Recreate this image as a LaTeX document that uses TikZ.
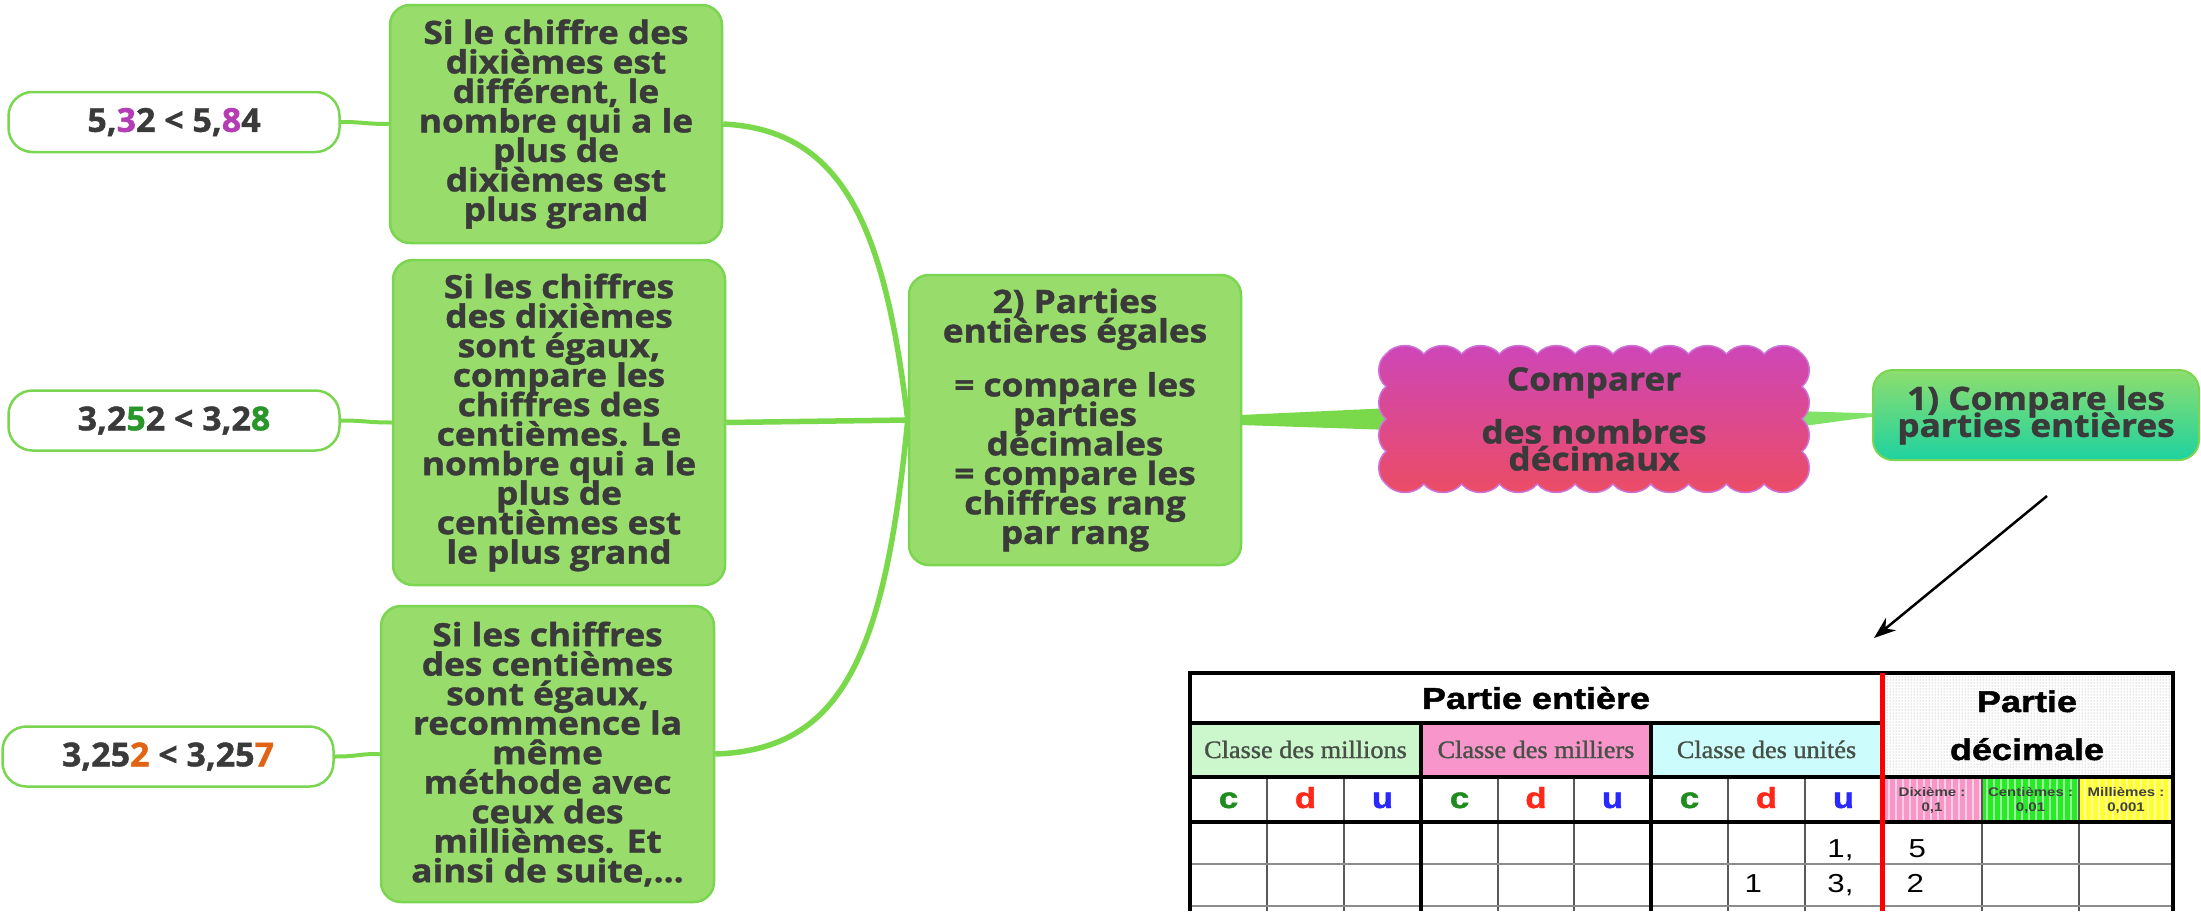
\documentclass[tikz,border=0pt]{standalone}
\usepackage{fontspec}
\newfontfamily\mapff{Open Sans}[UprightFont={* Bold}, FakeStretch=1.1, FakeBold=1.2]
\newfontfamily\numff{Open Sans}[UprightFont={* Bold}, FakeStretch=1.03, FakeBold=1.2]
\newfontfamily\tabsans{Liberation Sans}[FakeStretch=1.2]
\newfontfamily\tabheavy{Liberation Sans}[UprightFont={* Bold}, FakeStretch=1.2, FakeBold=1.5]
\newfontfamily\tabserif{Liberation Serif}[FakeStretch=1.05, FakeBold=1.2]
\usetikzlibrary{calc,patterns,arrows.meta}
\definecolor{boxgreen}{RGB}{152,221,108}
\definecolor{boxborder}{RGB}{122,214,80}
\definecolor{linkgreen}{RGB}{122,216,75}
\definecolor{linklight}{RGB}{128,226,105}
\definecolor{txt}{RGB}{58,58,58}
\definecolor{cloudtop}{RGB}{205,70,185}
\definecolor{cloudbot}{RGB}{236,76,100}
\definecolor{cloudedge}{RGB}{205,115,215}
\definecolor{onetop}{RGB}{142,222,110}
\definecolor{onebot}{RGB}{30,210,160}
\definecolor{numpurple}{RGB}{180,60,180}
\definecolor{numgreen}{RGB}{40,150,40}
\definecolor{numorange}{RGB}{225,100,20}
\definecolor{millfill}{RGB}{204,247,204}
\definecolor{millierfill}{RGB}{248,150,204}
\definecolor{unitfill}{RGB}{204,252,252}
\definecolor{dixfill}{RGB}{248,150,200}
\definecolor{centfill}{RGB}{40,235,40}
\definecolor{millemfill}{RGB}{255,255,50}
\definecolor{cgreen}{RGB}{30,140,30}
\definecolor{dred}{RGB}{255,40,25}
\definecolor{ublue}{RGB}{40,40,255}
\definecolor{classtext}{RGB}{70,80,70}
\newcommand\mapfont{\mapff\fontsize{32}{29.5}\selectfont\lineskiplimit=-1000pt\relax}
\newcommand\cloudfont{\mapff\fontsize{32}{27}\selectfont\lineskiplimit=-1000pt\relax}
\newcommand\numfont{\numff\fontsize{33}{33}\selectfont}
\pgfdeclarelayer{bg}
\pgfsetlayers{bg,main}
\begin{document}
\begin{tikzpicture}[x=1pt,y=-1pt,
  mapbox/.style={draw=boxborder, line width=2.5pt, fill=boxgreen, rounded corners=20pt,
    inner sep=0pt, align=center, text=txt, font=\mapfont},
  numbox/.style={draw=boxborder, line width=2.5pt, fill=white, rounded corners=24pt,
    inner sep=0pt, text=txt, font=\numfont, minimum width=331pt, minimum height=60pt},
  link/.style={draw=linkgreen, line width=5.5pt},
  thinlink/.style={draw=linkgreen, line width=4pt},
  thick rule/.style={draw=black, line width=4pt},
  thin rule/.style={draw=black!65, line width=2pt},
  cdu/.style={anchor=base, font=\tabheavy\fontsize{29}{29}\selectfont},
  digit/.style={font=\tabsans\fontsize{26}{26}\selectfont, text=black},
  classlabel/.style={font=\tabserif\fontsize{25}{25}\selectfont, text=classtext},
  declabel/.style={font=\tabsans\bfseries\fontsize{12.5}{15}\selectfont, text=black!75, align=center},
  headlabel/.style={font=\tabheavy\fontsize{30}{30}\selectfont}
]
\useasboundingbox (0,0) rectangle (2201,911);

% ---------- cloud shape ----------
\path[draw=cloudedge, line width=1.5pt, top color=cloudtop, bottom color=cloudbot]
  (1386,354)
  \foreach \i in {1,...,11} { to[bend left=50] ({1386+\i*37.818},354) }
  \foreach \j in {1,...,4} { to[bend left=50] (1802,{354+\j*32.5}) }
  \foreach \i in {1,...,11} { to[bend left=50] ({1802-\i*37.818},484) }
  \foreach \j in {1,...,4} { to[bend left=50] (1386,{484-\j*32.5}) }
  -- cycle;

% ---------- nodes ----------
\node[numbox] (numA) at (174,122) {5,{\color{numpurple}3}2 < 5,{\color{numpurple}8}4};
\node[numbox] (numB) at (174,420.5) {3,2{\color{numgreen}5}2 < 3,2{\color{numgreen}8}};
\node[numbox] (numC) at (168,756.5) {3,25{\color{numorange}2} < 3,25{\color{numorange}7}};

\node[mapbox, minimum width=332pt, minimum height=238pt] (b1) at (556,124)
  {Si le chiffre des\\dixièmes est\\différent, le\\nombre qui a le\\plus de\\dixièmes est\\plus grand};
\node[mapbox, minimum width=332pt, minimum height=325pt] (b2) at (559,422.5)
  {Si les chiffres\\des dixièmes\\sont égaux,\\compare les\\chiffres des\\centièmes. Le\\nombre qui a le\\plus de\\centièmes est\\le plus grand};
\node[mapbox, minimum width=333pt, minimum height=296pt] (b3) at (547.5,754)
  {Si les chiffres\\des centièmes\\sont égaux,\\recommence la\\même\\méthode avec\\ceux des\\millièmes. Et\\ainsi de suite,\dots};
\node[mapbox, minimum width=332pt, minimum height=290pt] (mid) at (1075,420)
  {2) Parties\\entières égales\\[24.5pt]= compare les\\parties\\décimales\\= compare les\\chiffres rang\\par rang};
\node[inner sep=0pt, align=center, text=txt, font=\cloudfont, minimum width=434pt, minimum height=148pt]
  (cloud) at (1594,419) {Comparer\\[26pt]des nombres\\décimaux};
\node[draw=boxborder, line width=2pt, top color=onetop, bottom color=onebot, rounded corners=20pt,
  inner sep=0pt, align=center, text=txt, font=\cloudfont, minimum width=326pt, minimum height=90pt]
  (one) at (2036,415) {1) Compare les\\parties entières};

% ---------- connectors ----------
\begin{pgfonlayer}{bg}
\draw[thinlink] (numA.east) .. controls +(25,0) and +(-25,0) .. (b1.west);
\draw[thinlink] (numB.east) .. controls +(25,0) and +(-25,0) .. (b2.west);
\draw[thinlink] (numC.east) .. controls +(25,0) and +(-25,0) .. (b3.west);
\draw[link] (mid.west) .. controls (885,230) and (845,130) .. (b1.east);
\draw[link] (mid.west) -- (b2.east);
\draw[link] (mid.west) .. controls (885,650) and (845,750) .. (b3.east);
\fill[linkgreen] ($(mid.east)+(-2,-5)$) -- ($(cloud.west)+(15,-11)$) -- ($(cloud.west)+(15,11)$) -- ($(mid.east)+(-2,5)$) -- cycle;
\fill[linklight] ($(cloud.east)+(-15,-8)$) -- ($(one.west)+(2,-1.5)$) -- ($(one.west)+(2,1.5)$) -- ($(cloud.east)+(-15,8)$) -- cycle;
\end{pgfonlayer}
\coordinate (arrS) at ($(one.south)+(11,35)$);
\coordinate (arrE) at (1874,638);
\draw[line width=2.5pt, -{Stealth[length=22pt,width=16pt]}] (arrS) -- (arrE);

% ---------- table ----------
\fill[millfill] (1190,723) rectangle (1421,777);
\fill[millierfill] (1421,723) rectangle (1651,777);
\fill[unitfill] (1651,723) rectangle (1882,777);
\fill[pattern=dots, pattern color=gray!80] (1882,673) rectangle (2173,777);
\fill[dixfill] (1882,777) rectangle (1982,822);
\fill[centfill] (1982,777) rectangle (2079,822);
\fill[millemfill] (2079,777) rectangle (2173,822);
\foreach \x in {1889,1896,...,2170} \draw[white, opacity=0.55, line width=1.3pt] (\x,778) -- (\x,821);

\foreach \x in {1267,1344,1498,1574,1728,1805,1982,2079} \draw[thin rule] (\x,777) -- (\x,911);
\foreach \y in {864,906} \draw[draw=black!45, line width=2pt] (1190,\y) -- (2173,\y);
\draw[thick rule] (1190,911) -- (1190,673) -- (2173,673) -- (2173,911);
\draw[thick rule] (1190,723) -- (1882,723);
\draw[thick rule] (1190,777) -- (2173,777);
\draw[thick rule] (1190,822) -- (2173,822);
\draw[draw=black, line width=3.5pt] (1421,723) -- (1421,911);
\draw[draw=black, line width=3.5pt] (1651,723) -- (1651,911);
\draw[draw=red, line width=5pt] (1882,673) -- (1882,911);

\node[headlabel] (pe) at (1536,698) {Partie entière};
\node[headlabel, anchor=base] (pd1) at (2027,712) {Partie};
\node[headlabel, anchor=base] (pd2) at (2027,760) {décimale};
\node[classlabel, anchor=base] (cm) at (1305.5,758) {Classe des millions};
\node[classlabel, anchor=base] (cl) at (1536,758) {Classe des milliers};
\node[classlabel, anchor=base] (cu) at (1766.5,758) {Classe des unités};
\foreach \x/\n in {1228.5/1,1459.5/2,1689.5/3} \node[cdu, text=cgreen] (c\n) at (\x,808) {c};
\foreach \x/\n in {1305.5/1,1536/2,1766.5/3} \node[cdu, text=dred] (d\n) at (\x,808) {d};
\foreach \x/\n in {1382.5/1,1612.5/2,1843.5/3} \node[cdu, text=ublue] (u\n) at (\x,808) {u};
\node[declabel] (dx) at (1932,800) {Dixième :\\0,1};
\node[declabel] (ct) at (2030.5,800) {Centièmes :\\0,01};
\node[declabel] (ml) at (2126,800) {Millièmes :\\0,001};
\node[digit, anchor=base east] (r1u) at (1857,857) {1,};
\node[digit, anchor=base west] (r1d) at (1905,857) {5};
\node[digit, anchor=base west] (r2d) at (1741,892) {1};
\node[digit, anchor=base east] (r2u) at (1857,892) {3,};
\node[digit, anchor=base west] (r2x) at (1903,892) {2};
\end{tikzpicture}
\end{document}
